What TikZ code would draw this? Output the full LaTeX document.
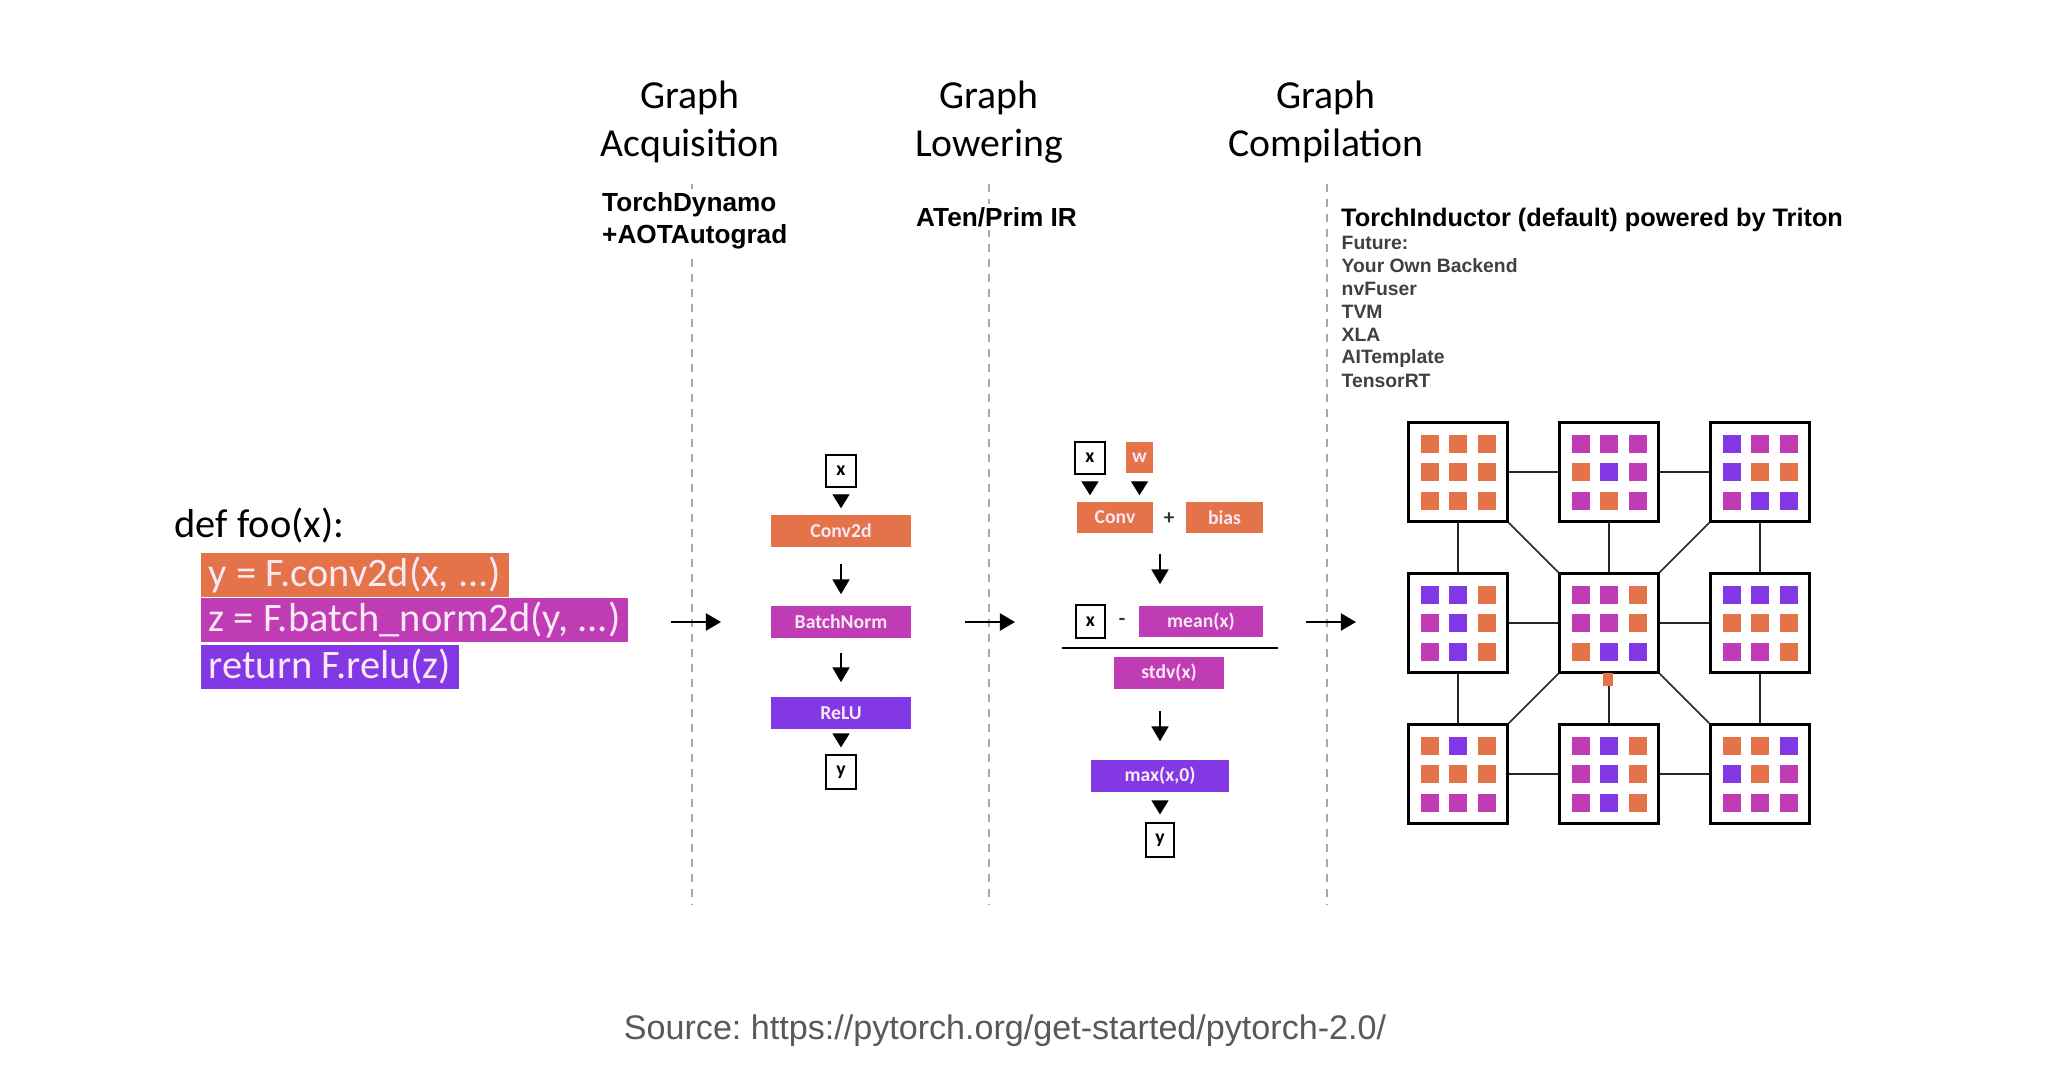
\documentclass[tikz,border=0pt]{standalone}
\usepackage{fontspec}
\setmainfont{Carlito}
\newfontfamily\arialfont{Liberation Sans}
\usetikzlibrary{arrows.meta}
\definecolor{tcO}{RGB}{228,115,74}
\definecolor{tcM}{RGB}{192,60,180}
\definecolor{tcP}{RGB}{131,56,230}
\definecolor{boxtext}{RGB}{250,232,244}
\definecolor{dashgray}{RGB}{170,170,170}
\tikzset{
  head/.style={font=\fontsize{11.3}{13.6}\selectfont, align=center},
  tool/.style={font=\arialfont\bfseries\fontsize{7.45}{9.1}\selectfont, align=left, anchor=west, fill=white, inner sep=1pt},
  future/.style={font=\arialfont\bfseries\fontsize{5.5}{6.6}\selectfont, text=black!75, anchor=west, inner sep=0pt},
  codebar/.style={anchor=north west, minimum height=0.44cm, inner xsep=0.08cm, inner ysep=0pt, text=boxtext, font=\fontsize{11.5}{13}\selectfont},
  op/.style={minimum height=0.32cm, inner sep=0pt, text=boxtext, font=\bfseries\fontsize{5.6}{6.5}\selectfont},
  var/.style={draw, line width=0.012cm, minimum width=0.3cm, minimum height=0.32cm, inner sep=0pt, font=\bfseries\fontsize{5.6}{6.5}\selectfont},
  sign/.style={inner sep=0pt, text=black!80, font=\bfseries\fontsize{6}{7}\selectfont},
  tri/.style={-{Triangle[width=0.17cm,length=0.14cm]}},
  arr/.style={line width=0.02cm, -{Triangle[width=0.17cm,length=0.15cm]}},
  phase/.style={dashgray, line width=0.015cm, dash pattern=on 0.08cm off 0.07cm},
  tile/.style={draw, line width=0.025cm, minimum size=0.99cm, inner sep=0pt},
  link/.style={line width=0.017cm, black!85},
}
\begin{document}
\begin{tikzpicture}[x=0.01cm,y=-0.01cm]
  \fill[white] (0,0) rectangle (2062,1072);
  % phase separators
  \foreach \px in {692,989,1327} \draw[phase] (\px,184) -- (\px,905);
  % headers
  \node[head] (hacq) at (690,122) {Graph\\Acquisition};
  \node[head] (hlow) at (989,122) {Graph\\Lowering};
  \node[head] (hcomp) at (1326,122) {Graph\\Compilation};
  \node[tool] (dynamo) at (598,221) {TorchDynamo\\+AOTAutograd};
  \node[tool] (aten) at (912,217) {ATen/Prim IR};
  \node[tool, font=\arialfont\bfseries\fontsize{7.2}{9}\selectfont] (inductor) at (1337,220) {TorchInductor (default) powered by Triton};
  \foreach \t [count=\i from 0] in {Future:,Your Own Backend,nvFuser,TVM,XLA,AITemplate,TensorRT}
    \node[future] (fut\i) at (1341,243+23*\i) {\t};
  % python code
  \node[anchor=west, inner sep=0pt, font=\fontsize{11.5}{13}\selectfont] (def) at (174,526) {def foo(x):};
  \node[codebar, fill=tcO] (line1) at (200,552) {y = F.conv2d(x, ...)};
  \node[codebar, fill=tcM] (line2) at (200,597) {z = F.batch\_norm2d(y, ...)};
  \node[codebar, fill=tcP] (line3) at (200,644) {return F.relu(z)};
  % acquired graph
  \node[var] (x1) at (841,471) {x};
  \node[op, fill=tcO, minimum width=1.39cm] (conv1) at (841,531) {Conv2d};
  \node[op, fill=tcM, minimum width=1.39cm] (bn1) at (841,622) {BatchNorm};
  \node[op, fill=tcP, minimum width=1.39cm] (relu1) at (841,713) {ReLU};
  \node[var, minimum height=0.34cm] (y1) at (841,772) {y};
  \draw[tri, shorten <=0.08cm, shorten >=0.06cm] (x1) -- (conv1);
  \draw[arr, shorten <=0.16cm, shorten >=0.11cm] (conv1) -- (bn1);
  \draw[arr, shorten <=0.14cm, shorten >=0.14cm] (bn1) -- (relu1);
  \draw[tri, shorten <=0.05cm, shorten >=0.07cm] (relu1) -- (y1);
  % lowered graph
  \node[var] (x2) at (1090,458) {x};
  \node[op, fill=tcO, minimum width=0.27cm, minimum height=0.31cm] (w2) at (1139.5,457.5) {w};
  \node[op, fill=tcO, minimum width=0.76cm, minimum height=0.31cm] (conv2) at (1115,517.5) {Conv};
  \node[sign] (plus) at (1169,519) {+};
  \node[op, fill=tcO, minimum width=0.77cm, minimum height=0.31cm] (bias2) at (1224.5,517.5) {bias};
  \node[var, minimum width=0.29cm, minimum height=0.33cm] (x3) at (1090.5,621.5) {x};
  \node[sign] (minus) at (1122,622) {-};
  \node[op, fill=tcM, minimum width=1.24cm, minimum height=0.31cm] (mean2) at (1201,621.5) {mean(x)};
  \node[op, fill=tcM, minimum width=1.1cm] (stdv2) at (1169,673) {stdv(x)};
  \node[op, fill=tcP, minimum width=1.38cm] (max2) at (1160,776) {max(x,0)};
  \node[var, minimum width=0.28cm, minimum height=0.34cm] (y2) at (1160,840) {y};
  \coordinate (fracl) at (1062,648);
  \coordinate (fracr) at (1278,648);
  \draw[line width=0.015cm] (fracl) -- (fracr);
  \draw[tri, shorten <=0.08cm, shorten >=0.06cm] (x2.south) -- (x2.south |- conv2.north);
  \draw[tri, shorten <=0.09cm, shorten >=0.06cm] (w2.south) -- (w2.south |- conv2.north);
  \draw[arr, shorten <=0.2cm, shorten >=0.21cm] (conv2.south -| max2.north) -- (mean2.north -| max2.north);
  \draw[arr, shorten <=0.21cm, shorten >=0.18cm] (stdv2.south -| max2.north) -- (max2.north);
  \draw[tri, shorten <=0.1cm, shorten >=0.08cm] (max2) -- (y2);
  % arrows between phases
  \foreach \s/\e [count=\k] in {671/721,965/1015,1306/1356}{
    \coordinate (a\k s) at (\s,622);
    \coordinate (a\k e) at (\e,622);
    \draw[arr] (a\k s) -- (a\k e);
  }
  % compiled kernels
  \foreach \n/\cx/\cy/\cols in {
    t00/1458/472/{O,O,O,O,O,O,O,O,O},
    t01/1609/472/{M,M,M,O,P,M,M,O,M},
    t02/1760/472/{P,M,M,P,O,O,M,P,P},
    t10/1458/623/{P,P,O,M,P,O,M,P,O},
    t11/1609/623/{M,M,O,M,M,O,O,P,P},
    t12/1760/623/{P,P,P,O,O,O,M,M,O},
    t20/1458/774/{O,P,O,O,O,O,M,M,M},
    t21/1609/774/{M,P,O,M,P,O,M,P,O},
    t22/1760/774/{O,O,P,P,O,M,M,M,M}}{
    \node[tile] (\n) at (\cx,\cy) {};
    \foreach \c [count=\i from 0] in \cols {
      \pgfmathtruncatemacro\col{mod(\i,3)-1}
      \pgfmathtruncatemacro\row{div(\i,3)-1}
      \fill[tc\c] (\cx+\col*28.5-9,\cy+\row*28.5-9) rectangle ++(18,18);
    }
  }
  \foreach \a/\b in {t00/t01,t01/t02,t10/t11,t11/t12,t20/t21,t21/t22,t00/t10,t10/t20,t01/t11,t11/t21,t02/t12,t12/t22}
    \draw[link] (\a) -- (\b);
  \draw[link] (t11.north west) -- (t00.south east);
  \draw[link] (t11.north east) -- (t02.south west);
  \draw[link] (t11.south west) -- (t20.north east);
  \draw[link] (t11.south east) -- (t22.north west);
  \fill[tcO] (1603,673) rectangle (1613,686);
  % source
  \node[font=\arialfont\fontsize{9.7}{11}\selectfont, text=black!65] (src) at (1005,1031) {Source:\ https://pytorch.org/get-started/pytorch-2.0/};
\end{tikzpicture}
\end{document}
